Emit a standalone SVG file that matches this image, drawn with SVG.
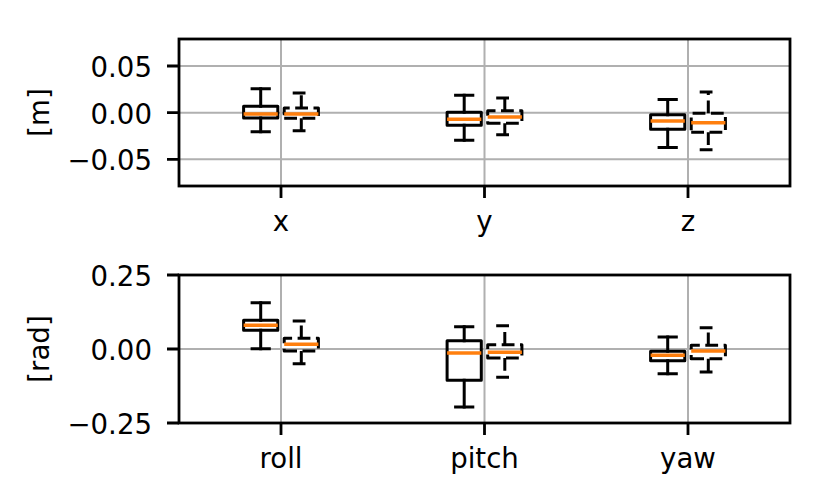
<svg xmlns="http://www.w3.org/2000/svg" width="829" height="503" viewBox="0 0 829 503">
<style>
text{font-family:"DejaVu Sans","Liberation Sans",sans-serif;font-size:27.6px;fill:#000}
.grid{stroke:#b0b0b0;stroke-width:2;fill:none}
.spine{stroke:#000;stroke-width:2.8;fill:none;stroke-linecap:square}
.tick{stroke:#000;stroke-width:2.8;fill:none}
.s path,.d path{stroke:#000;stroke-width:3;fill:none;stroke-linejoin:round}
.s path{stroke-linecap:square}
.d path{stroke-dasharray:12.8 5.5}
.s path.med,.d path.med{stroke:#ff7f0e;stroke-width:3.5;stroke-dasharray:none;stroke-linecap:butt}
.yl{text-anchor:end}
.xl{text-anchor:middle}
</style>
<rect width="829" height="503" fill="#fff"/>

<g id="axes-top">
  <g id="grid-top">
    <path class="grid" d="M179 66H790M179 112.7H790M179 159.3H790M281 39V186M484.5 39V186M688 39V186"/>
  </g>
  <g id="box-x-solid" class="s">
    <path d="M243.6 118H277.8V106.3H243.6Z"/>
    <path d="M260.7 118V131.7M260.7 106.3V88.7"/>
    <path d="M252.1 131.7H269.3M252.1 88.7H269.3"/>
    <path class="med" d="M243.6 114H277.8"/>
  </g>
  <g id="box-x-dashed" class="d">
    <path d="M284.2 118.3H318.4V108H284.2Z"/>
    <path d="M301.3 118.3V130.7M301.3 108V93"/>
    <path d="M292.7 130.7H309.9M292.7 93H309.9"/>
    <path class="med" d="M284.2 114H318.4"/>
  </g>
  <g id="box-y-solid" class="s">
    <path d="M447.1 125.3H481.3V112.3H447.1Z"/>
    <path d="M464.2 125.3V140.3M464.2 112.3V95.3"/>
    <path d="M455.6 140.3H472.8M455.6 95.3H472.8"/>
    <path class="med" d="M447.1 119.3H481.3"/>
  </g>
  <g id="box-y-dashed" class="d">
    <path d="M487.7 123.3H521.9V110.7H487.7Z"/>
    <path d="M504.8 123.3V134.7M504.8 110.7V98"/>
    <path d="M496.2 134.7H513.4M496.2 98H513.4"/>
    <path class="med" d="M487.7 117H521.9"/>
  </g>
  <g id="box-z-solid" class="s">
    <path d="M650.6 129.3H684.8V114.7H650.6Z"/>
    <path d="M667.7 129.3V147.5M667.7 114.7V99.5"/>
    <path d="M659.1 147.5H676.3M659.1 99.5H676.3"/>
    <path class="med" d="M650.6 121H684.8"/>
  </g>
  <g id="box-z-dashed" class="d">
    <path d="M691.2 132.3H725.4V113.3H691.2Z"/>
    <path d="M708.3 132.3V149.7M708.3 113.3V92"/>
    <path d="M699.7 149.7H716.9M699.7 92H716.9"/>
    <path class="med" d="M691.2 122.7H725.4"/>
  </g>
  <g id="spines-top">
    <rect class="spine" x="179" y="39" width="611" height="147"/>
    <path class="tick" d="M167 66H179M167 112.7H179M167 159.3H179M281 186V198M484.5 186V198M688 186V198"/>
  </g>
  <g id="labels-top">
    <text class="yl" x="152" y="77">0.05</text>
    <text class="yl" x="152" y="123.7">0.00</text>
    <text class="yl" x="152" y="170.3">−0.05</text>
    <text class="xl" x="281" y="231">x</text>
    <text class="xl" x="484.5" y="231">y</text>
    <text class="xl" x="688" y="231">z</text>
    <text class="xl" transform="translate(49 112.5) rotate(-90)">[m]</text>
  </g>
</g>

<g id="axes-bottom">
  <g id="grid-bottom">
    <path class="grid" d="M179 349H790M281 275V423M484.5 275V423M688 275V423"/>
  </g>
  <g id="box-roll-solid" class="s">
    <path d="M243.6 330.3H277.8V320.3H243.6Z"/>
    <path d="M260.7 330.3V348.7M260.7 320.3V302.7"/>
    <path d="M252.1 348.7H269.3M252.1 302.7H269.3"/>
    <path class="med" d="M243.6 325.3H277.8"/>
  </g>
  <g id="box-roll-dashed" class="d">
    <path d="M284.2 351H318.4V338.3H284.2Z"/>
    <path d="M301.3 351V363.7M301.3 338.3V321"/>
    <path d="M292.7 363.7H309.9M292.7 321H309.9"/>
    <path class="med" d="M284.2 344.3H318.4"/>
  </g>
  <g id="box-pitch-solid" class="s">
    <path d="M447.1 380.3H481.3V340.7H447.1Z"/>
    <path d="M464.2 380.3V407M464.2 340.7V326.7"/>
    <path d="M455.6 407H472.8M455.6 326.7H472.8"/>
    <path class="med" d="M447.1 353H481.3"/>
  </g>
  <g id="box-pitch-dashed" class="d">
    <path d="M487.7 358H521.9V344.7H487.7Z"/>
    <path d="M504.8 358V377.3M504.8 344.7V325.7"/>
    <path d="M496.2 377.3H513.4M496.2 325.7H513.4"/>
    <path class="med" d="M487.7 352.3H521.9"/>
  </g>
  <g id="box-yaw-solid" class="s">
    <path d="M650.6 360.7H684.8V351.3H650.6Z"/>
    <path d="M667.7 360.7V373.7M667.7 351.3V337"/>
    <path d="M659.1 373.7H676.3M659.1 337H676.3"/>
    <path class="med" d="M650.6 355.3H684.8"/>
  </g>
  <g id="box-yaw-dashed" class="d">
    <path d="M691.2 358.7H725.4V345.3H691.2Z"/>
    <path d="M708.3 358.7V372M708.3 345.3V327.7"/>
    <path d="M699.7 372H716.9M699.7 327.7H716.9"/>
    <path class="med" d="M691.2 351H725.4"/>
  </g>
  <g id="spines-bottom">
    <rect class="spine" x="179" y="275" width="611" height="148"/>
    <path class="tick" d="M167 275H179M167 349H179M167 423H179M281 423V435M484.5 423V435M688 423V435"/>
  </g>
  <g id="labels-bottom">
    <text class="yl" x="152" y="286">0.25</text>
    <text class="yl" x="152" y="360">0.00</text>
    <text class="yl" x="152" y="434">−0.25</text>
    <text class="xl" x="281" y="468">roll</text>
    <text class="xl" x="484.5" y="468">pitch</text>
    <text class="xl" x="688" y="468">yaw</text>
    <text class="xl" transform="translate(49 349) rotate(-90)">[rad]</text>
  </g>
</g>
</svg>
